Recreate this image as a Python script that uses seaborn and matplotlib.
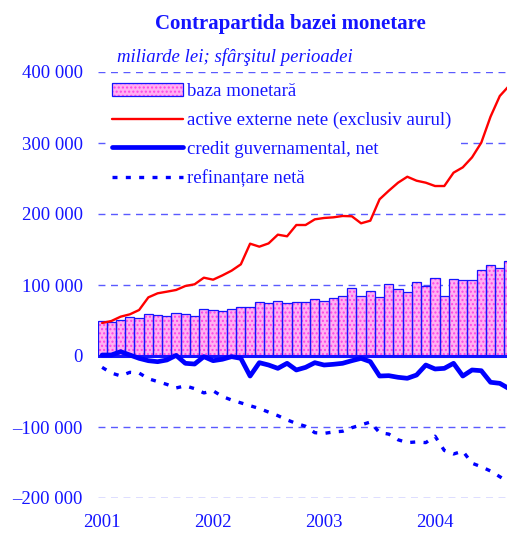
import matplotlib
matplotlib.use("Agg")
import matplotlib.pyplot as plt
import numpy as np
import pandas as pd
import seaborn as sns
from matplotlib.patches import Patch
from matplotlib.lines import Line2D
from matplotlib.legend_handler import HandlerTuple
from matplotlib.ticker import FuncFormatter

# monthly data, Jan 2001 - Sep 2004 (miliarde lei)
baza_monetara = [49300, 47500, 50700, 55400, 53100, 59200, 58200, 55900, 61000, 59600,
                 56800, 66600, 65200, 64000, 66200, 69000, 68500, 75600, 74200, 77000,
                 74600, 75600, 75600, 79800, 77500, 81200, 84000, 95300, 84500, 91500,
                 82600, 101000, 93900, 90600, 104700, 98600, 109400, 85000, 108900, 106600,
                 107500, 120700, 128200, 123500, 133800]
active_externe = [46500, 49300, 55400, 58700, 64800, 82600, 88300, 90600, 93000, 98600,
                  101000, 110300, 107500, 113500, 120200, 129100, 158200, 154000, 158600, 170900,
                  168600, 184500, 184500, 192500, 194400, 195300, 197200, 196800, 186900, 190600,
                  220700, 232800, 244100, 252500, 246900, 244100, 239400, 239400, 258200, 265700,
                  279800, 300500, 337100, 366200, 380500]
credit_guv = [1400, 1400, 6100, 1400, -3300, -6600, -8000, -5600, 900, -10300,
              -11300, -900, -6600, -4600, -900, -3300, -28200, -9400, -12700, -17400,
              -10300, -19700, -16000, -9400, -12700, -11700, -10300, -6600, -3300, -8000,
              -28200, -27700, -30000, -31400, -26800, -12700, -18300, -17400, -10300, -28200,
              -19700, -20700, -37000, -38500, -46000]
refinantare = [-16000, -24000, -28000, -23000, -24000, -32000, -36000, -40000, -45000, -42000,
               -46000, -52000, -49000, -57000, -62000, -66000, -70000, -74000, -79000, -84000,
               -90000, -95000, -99000, -108000, -109000, -107000, -106000, -101000, -97000, -93000,
               -108000, -110000, -118000, -122000, -121000, -122000, -113000, -133000, -138000, -134000,
               -151000, -156000, -162000, -170000, -178000]
year_ticks = [0, 12, 24, 36]
year_labels = ["2001", "2002", "2003", "2004"]
y_ticks = [-200000, -100000, 0, 100000, 200000, 300000, 400000]

df = pd.DataFrame({
    "luna": np.arange(len(baza_monetara)),
    "baza": baza_monetara,
    "active": active_externe,
    "credit": credit_guv,
    "refin": refinantare,
})

BLUE = "#1414ff"
PINK = "#ffb0f2"
HATCH = "#ff44e4"

sns.set_style("white")
plt.rcParams["font.family"] = ["Liberation Serif", "DejaVu Serif"]
plt.rcParams["hatch.linewidth"] = 1.0

fig = plt.figure(figsize=(5.07, 5.39), dpi=100)
ax = fig.add_axes([97.5 / 507, 41 / 539, 409.5 / 507, 426 / 539])

# grid lines
for v in y_ticks:
    if v != 0:
        ax.axhline(v, color="#5a5aff", lw=1.0, ls=(0, (5, 4)), zorder=0)

# bars: hatched pink fill, then blue outline
sns.barplot(data=df, x="luna", y="baza", color=PINK, saturation=1, width=1.0,
            edgecolor=HATCH, hatch="....", linewidth=0, ax=ax, zorder=2)
sns.barplot(data=df, x="luna", y="baza", color="none", saturation=1, width=1.0,
            fill=False, edgecolor=BLUE, linewidth=0.9, ax=ax, zorder=3)

ax.axhline(0, color=BLUE, lw=2.2, zorder=4)

sns.lineplot(data=df, x="luna", y="active", color="#ff0000", lw=1.7, ax=ax, zorder=5)
sns.lineplot(data=df, x="luna", y="credit", color="#0000ff", lw=3.4, ax=ax, zorder=5)
sns.lineplot(data=df, x="luna", y="refin", color="#0000ff", lw=2.4,
             linestyle=(0, (1.5, 2.5)), ax=ax, zorder=5)

ax.set_xlim(-0.5, 43.78)
ax.set_ylim(-200000, 400000)
ax.set_xticks(year_ticks)
ax.set_xticklabels(year_labels)
ax.set_yticks(y_ticks)


def fmt(v, pos):
    s = f"{int(abs(v)):,}".replace(",", " ")
    return ("\u2013" if v < 0 else "") + s


ax.yaxis.set_major_formatter(FuncFormatter(fmt))
ax.tick_params(axis="both", length=0, labelsize=13.5, labelcolor=BLUE)
ax.tick_params(axis="y", pad=10.5)
ax.tick_params(axis="x", pad=11.5)
ax.set_xlabel("")
ax.set_ylabel("")
for s in ax.spines.values():
    s.set_visible(False)

handles = [
    (Patch(facecolor=PINK, edgecolor=HATCH, hatch="....", linewidth=0),
     Patch(facecolor="none", edgecolor=BLUE, linewidth=0.9)),
    Line2D([], [], color="#ff0000", lw=1.7),
    Line2D([], [], color="#0000ff", lw=3.4),
    Line2D([], [], color="#0000ff", lw=2.4, ls=(0, (1.5, 2.5))),
]
labels = ["baza monetară", "active externe nete (exclusiv aurul)",
          "credit guvernamental, net", "refinanțare netă"]
leg = ax.legend(handles, labels, loc="upper left", bbox_to_anchor=(0.012, 0.996),
                handler_map={tuple: HandlerTuple(ndivide=1, pad=0)},
                fontsize=13.5, frameon=True, fancybox=False, framealpha=1,
                facecolor="white", edgecolor="none", handlelength=3.8,
                handletextpad=0.2, labelspacing=0.62, borderpad=0.3,
                borderaxespad=0.2)
for t in leg.get_texts():
    t.set_color(BLUE)
# legend box sits under the lines, over the grid
leg.set_zorder(1)

fig.text(290 / 507, 1 - 24 / 539, "Contrapartida bazei monetare", ha="center",
         va="center", fontsize=15, fontweight="bold", color=BLUE)
fig.text(235 / 507, 1 - 57 / 539, "miliarde lei; sfârşitul perioadei", ha="center",
         va="center", fontsize=13.5, fontstyle="italic", color=BLUE)

fig.savefig("out.png", dpi=100)
